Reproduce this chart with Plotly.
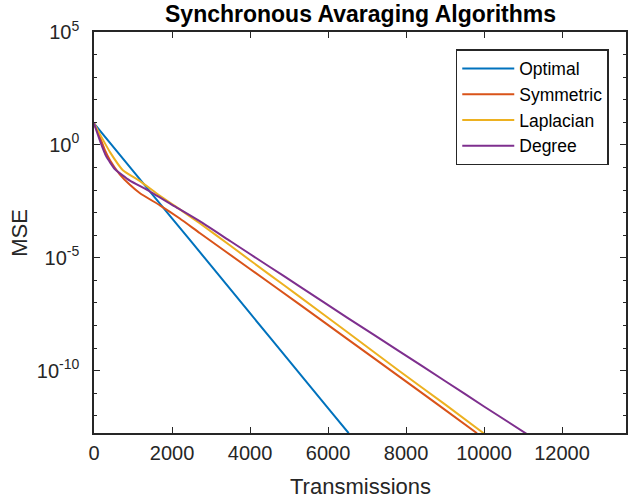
import plotly.graph_objects as go

# ---- data ----
series_names = ["Optimal", "Symmetric", "Laplacian", "Degree"]
series_colors = ["#0072BD", "#D95319", "#EDB120", "#7E2F8E"]

optimal_x = [0, 1000, 2000, 3000, 4000, 5000, 6000, 6530]
optimal_mse = [9.0, 7.1e-2, 5.6e-4, 4.5e-6, 3.5e-8, 2.8e-10, 2.2e-12, 1.7e-13]

symmetric_x = [0, 150, 280, 410, 660, 920, 1180, 1690, 2200, 2710, 4000, 5260,
               6500, 7820, 8800, 9820]
symmetric_mse = [9.0, 2.2, 5.9e-1, 2.1e-1, 5.0e-2, 1.7e-2, 7.2e-3, 2.1e-3, 5.5e-4,
                 1.26e-4, 3.2e-6, 8.9e-8, 2.5e-9, 5.6e-11, 3.3e-12, 1.7e-13]

laplacian_x = [0, 150, 410, 740, 1180, 1690, 2200, 2710, 3500, 4500, 5260, 6500,
               7820, 9000, 9990]
laplacian_mse = [9.0, 3.0, 4.8e-1, 7.6e-2, 2.5e-2, 5.6e-3, 1.4e-3, 3.4e-4, 3.4e-5,
                 1.8e-6, 1.95e-7, 5.0e-9, 1.0e-10, 3.2e-12, 1.7e-13]

degree_x = [0, 150, 310, 540, 920, 1350, 2070, 2710, 3500, 4500, 5260, 6500, 7820,
            9000, 10000, 11090]
degree_mse = [9.0, 1.6, 3.2e-1, 8.3e-2, 2.6e-2, 1.05e-2, 1.9e-3, 4.2e-4, 5.4e-5,
              4.0e-6, 5.6e-7, 2.2e-8, 7.4e-10, 3.5e-11, 2.6e-12, 1.6e-13]

x_tickvals = [0, 2000, 4000, 6000, 8000, 10000, 12000]
x_ticktext = ["0", "2000", "4000", "6000", "8000", "10000", "12000"]
y_tickvals = [1e-10, 1e-5, 1, 1e5]
y_ticktext = ["10<sup>-10</sup>", "10<sup>-5</sup>", "10<sup>0</sup>", "10<sup>5</sup>"]
y_minor_tickvals = [1e-12, 1e-11, 1e-9, 1e-8, 1e-7, 1e-6, 1e-4, 1e-3, 1e-2, 1e-1,
                    1e1, 1e2, 1e3, 1e4]

title_text = "Synchronous Avaraging Algorithms"
x_title = "Transmissions"
y_title = "MSE"

# ---- figure ----
FONT = "Liberation Sans, Arial, Helvetica, sans-serif"
AX = "#262626"

xs = [optimal_x, symmetric_x, laplacian_x, degree_x]
ys = [optimal_mse, symmetric_mse, laplacian_mse, degree_mse]

fig = go.Figure()
for name, color, x, y in zip(series_names, series_colors, xs, ys):
    fig.add_trace(go.Scatter(
        x=x, y=y, name=name, mode="lines",
        line=dict(color=color, width=2, shape="spline", smoothing=0.5),
    ))

fig.update_layout(
    width=628, height=500,
    margin=dict(l=94, r=0, t=32, b=67),
    paper_bgcolor="white", plot_bgcolor="white",
    font=dict(family=FONT, color=AX),
    showlegend=True,
    legend=dict(
        x=0.68, y=0.9576, xanchor="left", yanchor="top",
        bgcolor="white", bordercolor=AX, borderwidth=1.5,
        font=dict(family=FONT, size=17.5, color="black"),
        tracegroupgap=0, itemwidth=52,
    ),
    xaxis=dict(
        range=[0, 13640], tickmode="array", tickvals=x_tickvals, ticktext=x_ticktext,
        ticks="inside", ticklen=6, tickwidth=1.2, tickcolor=AX,
        showline=True, linecolor=AX, linewidth=1.5, mirror="ticks",
        showgrid=False, zeroline=False,
        tickfont=dict(family=FONT, size=20, color=AX),
        ticklabelstandoff=1,
    ),
    yaxis=dict(
        type="log", range=[-12.76, 5], tickmode="array",
        tickvals=y_tickvals, ticktext=y_ticktext,
        ticks="inside", ticklen=6, tickwidth=1.2, tickcolor=AX,
        showline=True, linecolor=AX, linewidth=1.5, mirror="ticks",
        showgrid=False, zeroline=False,
        tickfont=dict(family=FONT, size=20, color=AX),
        ticklabelstandoff=9,
        minor=dict(tickmode="array", tickvals=y_minor_tickvals, ticks="inside",
                   ticklen=3, tickwidth=1.2, tickcolor=AX, showgrid=False),
    ),
    annotations=[
        dict(text="<b>" + title_text + "</b>", xref="paper", yref="paper",
             x=0.5, y=1.0449, xanchor="center", yanchor="middle", showarrow=False,
             font=dict(family=FONT, size=23, color="black")),
        dict(text=x_title, xref="paper", yref="paper",
             x=0.5, y=-0.134, xanchor="center", yanchor="middle", showarrow=False,
             font=dict(family=FONT, size=22, color=AX)),
        dict(text=y_title, xref="paper", yref="paper", textangle=-90,
             x=-0.1404, y=0.5, xanchor="center", yanchor="middle", showarrow=False,
             font=dict(family=FONT, size=22, color=AX)),
    ],
)

fig.write_html("out.html")
